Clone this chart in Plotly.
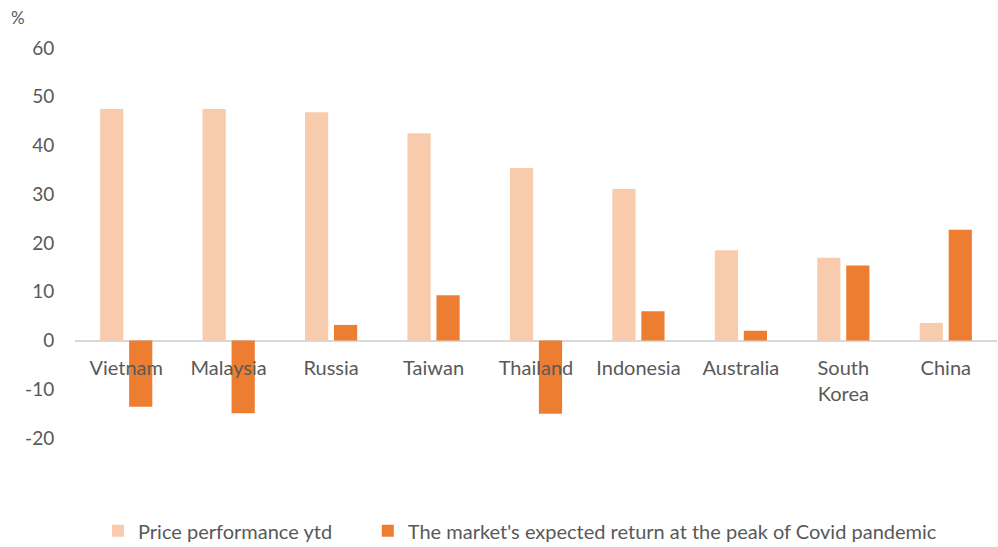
import plotly.graph_objects as go

categories = ["Vietnam", "Malaysia", "Russia", "Taiwan", "Thailand", "Indonesia", "Australia", "South<br>Korea", "China"]
price_ytd = [47.5, 47.5, 46.8, 42.5, 35.4, 31.1, 18.5, 17.0, 3.6]
expected_return = [-13.6, -14.9, 3.2, 9.3, -15.0, 6.0, 2.0, 15.4, 22.7]
y_ticks = [-20, -10, 0, 10, 20, 30, 40, 50, 60]
y_tick_labels = ["-20", "-10", "0", "10", "20", "30", "40", "50", "60"]

FONT = "Lato"
TXT = "#595959"
PAD = "\u00a0" * 6

fig = go.Figure()
fig.add_trace(go.Bar(x=categories, y=price_ytd, name="Price performance ytd" + PAD,
                     marker=dict(color="#F8CBAD", line=dict(width=0))))
fig.add_trace(go.Bar(x=categories, y=expected_return,
                     name="The market's expected return at the peak of Covid pandemic",
                     marker=dict(color="#ED7D31", line=dict(width=0))))

fig.update_layout(
    width=998, height=547,
    margin=dict(l=75, r=1, t=48, b=109, autoexpand=False),
    paper_bgcolor="white", plot_bgcolor="white",
    font=dict(family=FONT, size=20, color=TXT),
    barmode="group", bargap=0.434, bargroupgap=0.2,
    showlegend=True,
    legend=dict(orientation="h", x=(98 - 75) / 922, xanchor="left", y=-0.238, yanchor="middle",
                font=dict(size=20, color=TXT), itemwidth=30, tracegroupgap=0),
    xaxis=dict(anchor="free", position=0.25, showline=False, showgrid=False,
               ticks="outside", ticklen=9, tickcolor="rgba(0,0,0,0)",
               tickfont=dict(size=20, color=TXT)),
    yaxis=dict(range=[-20, 60], tickvals=y_ticks, ticktext=y_tick_labels, showgrid=False,
               zeroline=True, zerolinecolor="#D9D9D9", zerolinewidth=2,
               ticks="outside", ticklen=16, tickcolor="rgba(0,0,0,0)",
               tickfont=dict(size=19, color=TXT)),
)
fig.add_annotation(text="%", xref="paper", yref="paper",
                   x=-57 / 922, y=1 + (48 - 17) / 390, xanchor="center", yanchor="middle",
                   showarrow=False, font=dict(size=17, color=TXT))

fig.write_html("out.html", config={"displayModeBar": False},
               post_script="document.body.style.margin='0';document.body.style.padding='0';")
